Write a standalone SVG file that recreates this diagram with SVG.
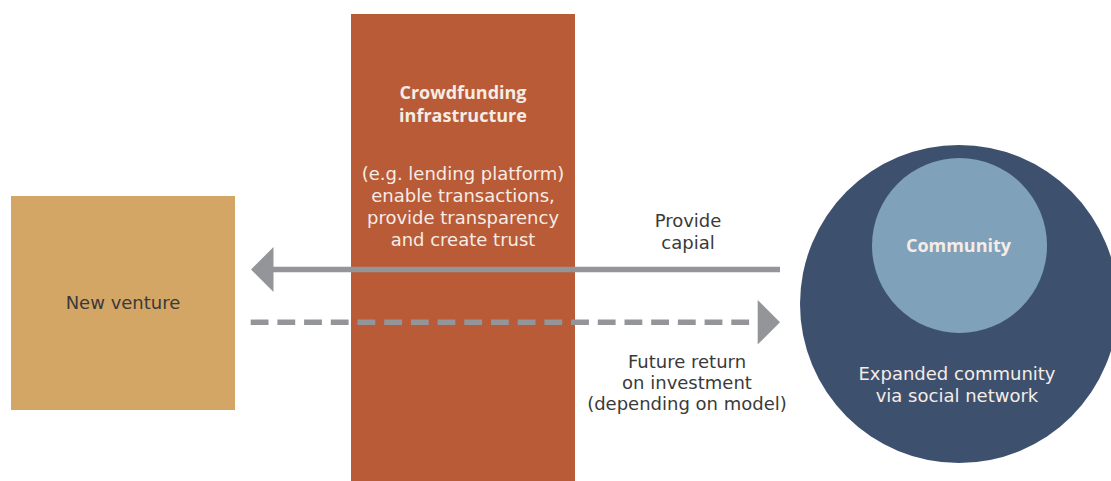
<svg xmlns="http://www.w3.org/2000/svg" width="1111" height="481" viewBox="0 0 1111 481">
<style>
text{font-family:"DejaVu Sans","Open Sans",sans-serif;font-size:18px;text-anchor:middle}
.dark{fill:#3a3a3a}
.light{fill:#f6ece6}
.bold{font-family:"Open Sans","Liberation Sans",sans-serif;font-weight:700;font-size:18px}
.conn{stroke:#939598;stroke-width:5.5;fill:none}
.head{fill:#939598}
</style>
<rect width="1111" height="481" fill="#ffffff"/>
<g id="infrastructure">
<rect x="351" y="14" width="224" height="467" fill="#b85b36"/>
<text class="light bold" x="463" y="99">Crowdfunding</text>
<text class="light bold" x="463" y="122">infrastructure</text>
<text class="light" x="463" y="180">(e.g. lending platform)</text>
<text class="light" x="463" y="202">enable transactions,</text>
<text class="light" x="463" y="224">provide transparency</text>
<text class="light" x="463" y="246">and create trust</text>
</g>
<g id="new-venture">
<rect x="11" y="196" width="224" height="214" fill="#d4a665"/>
<text class="dark" x="123" y="309">New venture</text>
</g>
<g id="community">
<circle cx="959" cy="304" r="159" fill="#3d516f"/>
<circle cx="959.5" cy="245.5" r="87.5" fill="#7fa1ba"/>
<text class="light bold" x="958.5" y="252">Community</text>
<text class="light" x="957" y="380">Expanded community</text>
<text class="light" x="957" y="402">via social network</text>
</g>
<g id="connectors">
<line class="conn" x1="272" y1="269.5" x2="780" y2="269.5"/>
<polygon class="head" points="251,269.5 273.5,247 273.5,292"/>
<line class="conn" x1="250.7" y1="322.3" x2="749.2" y2="322.3" stroke-dasharray="17.8 8.9"/>
<polygon class="head" points="780,322.3 757.7,300 757.7,344.5"/>
<text class="dark" x="688" y="227">Provide</text>
<text class="dark" x="688" y="249">capial</text>
<text class="dark" x="687" y="368">Future return</text>
<text class="dark" x="687" y="389">on investment</text>
<text class="dark" x="687" y="410">(depending on model)</text>
</g>
</svg>
